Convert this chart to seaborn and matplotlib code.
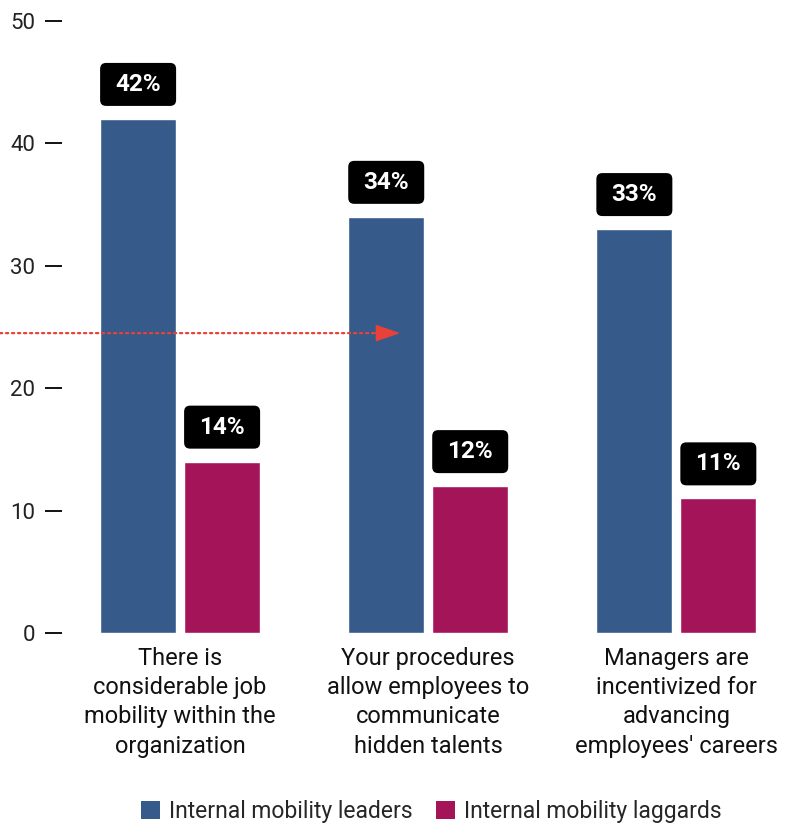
import numpy as np
import pandas as pd
import matplotlib
matplotlib.use("Agg")
import matplotlib.pyplot as plt
import matplotlib.transforms as mtransforms
from matplotlib.patches import FancyBboxPatch, Patch
import seaborn as sns

# --- data -------------------------------------------------------------
categories = [
    "There is\nconsiderable job\nmobility within the\norganization",
    "Your procedures\nallow employees to\ncommunicate\nhidden talents",
    "Managers are\nincentivized for\nadvancing\nemployees' careers",
]
series = ["Internal mobility leaders", "Internal mobility laggards"]
leaders = [42, 34, 33]
laggards = [14, 12, 11]
reference_level = 24.5
y_ticks = [0, 10, 20, 30, 40, 50]

colors = ["#365a8a", "#a41458"]
arrow_red = "#e8413a"

sns.set_theme(style="white")
plt.rcParams["font.family"] = ["Roboto", "DejaVu Sans"]

df = pd.DataFrame({
    "category": categories * 2,
    "group": [series[0]] * 3 + [series[1]] * 3,
    "value": leaders + laggards,
})

W, H = 788, 824
fig = plt.figure(figsize=(W / 100, H / 100), dpi=100)
ax = fig.add_axes([62 / W, (H - 633) / H, (788 - 62) / W, (633 - 21) / H])

sns.barplot(data=df, x="category", y="value", hue="group", palette=colors,
            width=0.677, gap=0.095, saturation=1, ax=ax, legend=False)

ax.set_ylim(0, 50)
ax.set_xlim(-0.476, 2.45)
ax.set_yticks(y_ticks)
ax.set_yticklabels([str(t) for t in y_ticks], fontsize=16, color="#222222")
ax.set_xlabel("")
ax.set_ylabel("")
for s in ax.spines.values():
    s.set_visible(False)
ax.tick_params(axis="y", left=True, length=12.5, width=1.4, color="#111111", pad=7)
ax.tick_params(axis="x", length=0, pad=10)
ax.set_xticks(range(len(categories)))
ax.set_xticklabels(categories, fontsize=17, color="#111111", linespacing=1.35,
                   ha="center", va="top")

# value badges above every bar
for bar in ax.patches:
    h = bar.get_height()
    if h is None or np.isnan(h) or bar.get_width() == 0:
        continue
    cx = bar.get_x() + bar.get_width() / 2
    anchor = mtransforms.ScaledTranslation(cx, h, ax.transData)
    tr = fig.dpi_scale_trans + anchor
    box = FancyBboxPatch((-0.38, 0.13), 0.76, 0.43,
                         boxstyle="round,pad=0,rounding_size=0.06",
                         transform=tr, facecolor="black", edgecolor="none",
                         clip_on=False, zorder=5)
    ax.add_patch(box)
    ax.annotate(f"{h:g}%", xy=(cx, h), xytext=(0, 24.8), textcoords="offset points",
                ha="center", va="center", fontsize=17.5, fontweight="bold",
                color="white", zorder=6, annotation_clip=False)

# dotted reference arrow
tip_x = 0.887
ax.annotate("", xy=(tip_x - 0.1, reference_level), xycoords="data",
            xytext=(0, reference_level), textcoords=("figure fraction", "data"),
            arrowprops=dict(arrowstyle="-", linestyle=(0, (1, 1.7)), lw=1.6,
                            color=arrow_red, shrinkA=0, shrinkB=0),
            annotation_clip=False, zorder=4)
ax.annotate("", xy=(tip_x, reference_level), xycoords="data",
            xytext=(tip_x - 0.105, reference_level), textcoords="data",
            arrowprops=dict(arrowstyle="-|>,head_length=1.3,head_width=0.45",
                            lw=1.0, color=arrow_red, shrinkA=0, shrinkB=0),
            annotation_clip=False, zorder=4)

handles = [Patch(facecolor=c, edgecolor="none") for c in colors]
fig.legend(handles, series, loc="center", bbox_to_anchor=(431.5 / W, 12.5 / H),
           ncol=2, frameon=False, fontsize=16.5, handlelength=0.83, handleheight=0.83,
           handletextpad=0.39, columnspacing=1.0, borderaxespad=0, borderpad=0)

fig.savefig("out.png", dpi=100)
